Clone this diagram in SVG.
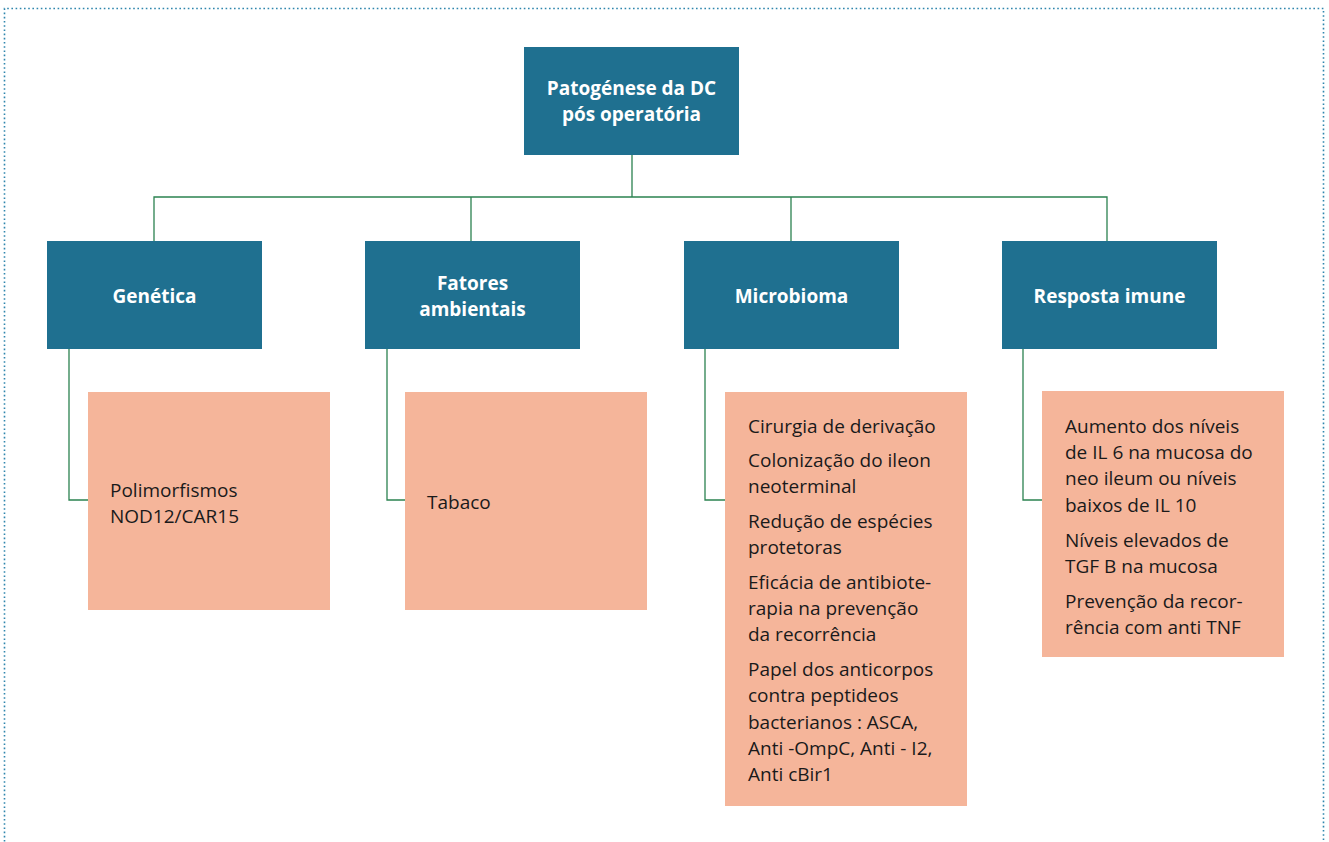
<svg xmlns="http://www.w3.org/2000/svg" width="1329" height="842" viewBox="0 0 1329 842">
<style>
.head{fill:#1f7090}
.leaf{fill:#f5b59a}
.ht{font-family:"Open Sans","Noto Sans",sans-serif;font-weight:bold;font-size:19px;fill:#ffffff;text-anchor:middle}
.lt{font-family:"Open Sans","Noto Sans",sans-serif;font-size:19px;fill:#1a1a1a}
.con{fill:none;stroke:#2b8250;stroke-width:1.3}
.frame{fill:none;stroke:#2f86ad;stroke-width:1.6;stroke-dasharray:1.6 2.6}
</style>
<rect width="1329" height="842" fill="#ffffff"/>
<path class="frame" d="M4.5,850 V8.5 H1323.5 V850"/>
<g id="connectors">
<path class="con" d="M632,155 V197 M154,241 V197 H1107 V241 M471,197 V241 M791,197 V241"/>
<path class="con" d="M69,349 V500 H88"/>
<path class="con" d="M387,349 V500 H405"/>
<path class="con" d="M705,349 V500 H725"/>
<path class="con" d="M1023,349 V500 H1042"/>
</g>
<g id="root">
<rect class="head" x="524" y="47" width="215" height="108"/>
<text class="ht" x="631.5" y="95">Patogénese da DC</text>
<text class="ht" x="631.5" y="121">pós operatória</text>
</g>
<g id="genetica">
<rect class="head" x="47" y="241" width="215" height="108"/>
<text class="ht" x="154.5" y="303">Genética</text>
</g>
<g id="fatores">
<rect class="head" x="365" y="241" width="215" height="108"/>
<text class="ht" x="472.5" y="290">Fatores</text>
<text class="ht" x="472.5" y="316">ambientais</text>
</g>
<g id="microbioma">
<rect class="head" x="684" y="241" width="215" height="108"/>
<text class="ht" x="791.5" y="303">Microbioma</text>
</g>
<g id="resposta">
<rect class="head" x="1002" y="241" width="215" height="108"/>
<text class="ht" x="1109.5" y="303">Resposta imune</text>
</g>
<g id="leaf-genetica">
<rect class="leaf" x="88" y="392" width="242" height="218"/>
<text class="lt" x="110" y="497">Polimorfismos</text>
<text class="lt" x="110" y="523">NOD12/CAR15</text>
</g>
<g id="leaf-fatores">
<rect class="leaf" x="405" y="392" width="242" height="218"/>
<text class="lt" x="427" y="509">Tabaco</text>
</g>
<g id="leaf-microbioma">
<rect class="leaf" x="725" y="392" width="242" height="414"/>
<text class="lt" x="748" y="433">Cirurgia de derivação</text>
<text class="lt" x="748" y="467">Colonização do ileon</text>
<text class="lt" x="748" y="493">neoterminal</text>
<text class="lt" x="748" y="528">Redução de espécies</text>
<text class="lt" x="748" y="554">protetoras</text>
<text class="lt" x="748" y="589">Eficácia de antibiote-</text>
<text class="lt" x="748" y="615">rapia na prevenção</text>
<text class="lt" x="748" y="641">da recorrência</text>
<text class="lt" x="748" y="676">Papel dos anticorpos</text>
<text class="lt" x="748" y="702">contra peptideos</text>
<text class="lt" x="748" y="729">bacterianos : ASCA,</text>
<text class="lt" x="748" y="755">Anti -OmpC, Anti - I2,</text>
<text class="lt" x="748" y="781">Anti cBir1</text>
</g>
<g id="leaf-resposta">
<rect class="leaf" x="1042" y="391" width="242" height="266"/>
<text class="lt" x="1065" y="433">Aumento dos níveis</text>
<text class="lt" x="1065" y="459">de IL 6 na mucosa do</text>
<text class="lt" x="1065" y="485">neo ileum ou níveis</text>
<text class="lt" x="1065" y="512">baixos de IL 10</text>
<text class="lt" x="1065" y="547">Níveis elevados de</text>
<text class="lt" x="1065" y="573">TGF B na mucosa</text>
<text class="lt" x="1065" y="608">Prevenção da recor-</text>
<text class="lt" x="1065" y="634">rência com anti TNF</text>
</g>
</svg>
